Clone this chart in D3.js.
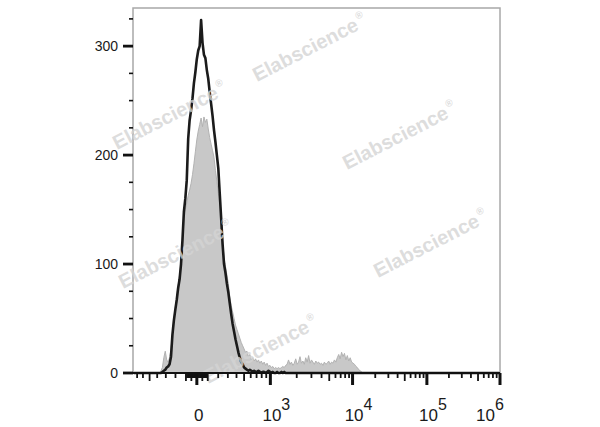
<!DOCTYPE html>
<html><head><meta charset="utf-8">
<script src="https://cdn.jsdelivr.net/npm/d3@7"></script>
<style>html,body{margin:0;padding:0;background:#fff;}svg{display:block;font-family:"Liberation Sans",Arial,sans-serif;}</style>
</head><body>
<svg id="chart" width="600" height="427"></svg>
<script>
// ---------- data ----------
const channelCount = 256;           // display channels across the logicle axis
const startChannel = 18;            // first channel of the count arrays
const stainedCounts = [0,0,1,2,3,5,6,8,15,35,48,58,67,78,86,100,122,148,160,177,215,232,241,252,266,276,288,296,300,324,303,292,289,278,270,258,247,236,223,212,200,188,165,142,118,100,92,82,74,64,54,45,38,31,25,19,14,10,8,5,4,3,2,3,2,1,2,1,1,2,1,0,1,1,0,1,2,1,0,1,0,0,1,0,0,1,0,1,0];
const controlCounts = [0,2,5,14,20,12,10,14,22,36,50,60,70,80,90,102,118,140,150,156,163,168,174,182,192,203,214,222,228,234,226,235,230,233,224,216,210,204,198,186,176,165,155,140,122,106,98,90,82,70,62,56,50,44,40,36,32,28,25,22,19,20,15,17,12,14,11,13,10,12,9,11,8,10,7,9,6,7,5,6,4,5,4,5,4,5,6,5,7,8,12,8,10,7,9,13,8,10,15,9,11,8,14,10,16,9,12,10,8,11,9,10,8,9,7,10,8,9,11,8,10,9,12,10,14,17,13,19,15,18,12,16,11,14,10,9,8,6,5,3,2,1,0];
const yTickValues = [0,25,50,75,100,125,150,175,200,225,250,275,300,325];
const yLabelValues = [0,100,200,300];
const xLabelValues = [0,1e3,1e4,1e5,1e6];
const xLabelBase = ["0","10","10","10","10"];
const xLabelExp = ["","3","4","5","6"];
const tickMantissas = [1,2,3,4,5,6,7,8,9];
const tickDecades = [1,2,3,4,5];
const watermarkText = "Elabscience";

// ---------- logicle transform ----------
const LT = 1e6, LW = 0.75, LM = 4.905, LA = 0.125;
const lw = LW/(LM+LA), x2 = LA/(LM+LA), x1 = x2+lw, x0 = x2+2*lw, lb = (LM+LA)*Math.LN10;
function solveD(b,w){let lo=1e-9,hi=b;for(let i=0;i<200;i++){const m=(lo+hi)/2;const v=2*(Math.log(m)-Math.log(b))+w*(b+m);if(v>0)hi=m;else lo=m;}return (lo+hi)/2;}
const ld = solveD(lb,lw);
const ca = Math.exp(x0*(lb+ld)), mfa = Math.exp(lb*x1)-ca/Math.exp(ld*x1);
const la = LT/((Math.exp(lb)-mfa)-ca/Math.exp(ld)), lc = ca*la, lf = -mfa*la;
function logicleInv(y){const neg=y<x1;const yy=neg?2*x1-y:y;const v=la*Math.exp(lb*yy)-lc*Math.exp(-ld*yy)+lf;return neg?-v:v;}
function logicle(v){let lo=-1,hi=2;for(let i=0;i<80;i++){const m=(lo+hi)/2;if(logicleInv(m)<v)lo=m;else hi=m;}return (lo+hi)/2;}

// ---------- layout ----------
const L=133,R=500,T=8,B=373;
const svg = d3.select("#chart");
const xDisp = d3.scaleLinear().domain([0,1]).range([L,R]);
const xChan = d3.scaleLinear().domain([0,channelCount]).range([L,R]);
const y = d3.scaleLinear().domain([0,335]).range([B,T]);

function series(arr){
  const out=[];
  for(let c=0;c<channelCount;c++){const i=c-startChannel;out.push({c:c,v:(i>=0&&i<arr.length)?arr[i]:0});}
  return out;
}
const ctrl = series(controlCounts), stain = series(stainedCounts);

// frame
svg.append("rect").attr("x",L).attr("y",T).attr("width",R-L).attr("height",B-T)
  .attr("fill","none").attr("stroke","#a8a8a8").attr("stroke-width",1.5);

// control filled histogram
svg.append("path").datum(ctrl)
  .attr("d",d3.area().x(d=>xChan(d.c+0.5)).y0(y(0)).y1(d=>y(d.v)))
  .attr("fill","#c8c8c8").attr("stroke","#b2b2b2").attr("stroke-width",1);

// stained line
svg.append("path").datum(stain)
  .attr("d",d3.line().x(d=>xChan(d.c+0.5)).y(d=>y(d.v)))
  .attr("fill","none").attr("stroke","#1b1b1b").attr("stroke-width",2.6).attr("stroke-linejoin","round");

// watermarks
const wmPos = [[257,82],[117,150],[347,170],[123,289],[378,278],[208,384]];
wmPos.forEach(p=>{
  const t = svg.append("text").attr("transform",`translate(${p[0]},${p[1]}) rotate(-27)`)
    .attr("font-size",20).attr("font-weight","bold").attr("fill","#d4d4d4").attr("fill-opacity",0.8);
  t.append("tspan").text(watermarkText);
  t.append("tspan").attr("font-size",10).attr("dy",-10).attr("dx",2).text("®");
});

// bottom axis line
svg.append("line").attr("x1",L).attr("x2",R).attr("y1",B).attr("y2",B).attr("stroke","#111").attr("stroke-width",2.2);

// y ticks
yTickValues.forEach(v=>{
  const major = yLabelValues.includes(v);
  svg.append("line").attr("x1",major?L-10:L-4).attr("x2",L).attr("y1",y(v)).attr("y2",y(v))
    .attr("stroke","#111").attr("stroke-width",major?2.8:1.6);
});
yLabelValues.forEach(v=>{
  svg.append("text").attr("x",118).attr("y",y(v)+5).attr("text-anchor","end")
    .attr("font-size",14).attr("fill","#1a1a1a").text(v);
});

// x ticks (logicle)
const xt=[{v:0,k:"major"}];
tickDecades.forEach(dd=>tickMantissas.forEach(m=>{
  const v=m*Math.pow(10,dd);
  const kind=(dd>=3&&m===1)?"major":(m===5||(dd===2&&m===1))?"mid":"minor";
  xt.push({v:v,k:kind});xt.push({v:-v,k:kind});
}));
xt.push({v:1e6,k:"major"});
xt.forEach(t=>{
  const p=logicle(t.v); if(p<-0.001||p>1.001) return;
  const len=t.k==="major"?12:t.k==="mid"?8:5;
  svg.append("line").attr("x1",xDisp(p)).attr("x2",xDisp(p)).attr("y1",B).attr("y2",B+len)
    .attr("stroke","#111").attr("stroke-width",t.k==="major"?3:1.8);
});
xLabelValues.forEach((v,i)=>{
  let cx = xDisp(logicle(v)) + (i===0?2:6);
  if(cx>490) cx=490;
  const t=svg.append("text").attr("x",cx).attr("y",421).attr("text-anchor","middle")
    .attr("font-size",17).attr("fill","#1a1a1a");
  t.append("tspan").text(xLabelBase[i]);
  if(xLabelExp[i]) t.append("tspan").attr("font-size",16).attr("dy",-11).text(xLabelExp[i]);
});
</script>
</body></html>
